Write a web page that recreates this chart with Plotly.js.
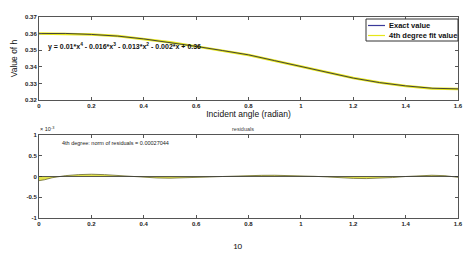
<!DOCTYPE html>
<html><head><meta charset="utf-8">
<script src="https://cdn.plot.ly/plotly-3.0.1.min.js"></script>
<style>html,body{margin:0;padding:0;background:#fff}#c{width:465px;height:254px}</style>
</head><body><div id="c"></div>
<script>
const angle = [0,0.1,0.2,0.3,0.4,0.5,0.6,0.7,0.8,0.9,1.0,1.1,1.2,1.3,1.4,1.5,1.6];
const exactH = [0.3600,0.3601,0.3595,0.3585,0.3568,0.3547,0.3523,0.3498,0.3472,0.3437,0.3402,0.3366,0.3332,0.3305,0.3285,0.3271,0.3267];
const fitH   = [0.3601,0.3600,0.3595,0.3585,0.3568,0.3548,0.3523,0.3498,0.3471,0.3437,0.3402,0.3366,0.3332,0.3306,0.3285,0.3270,0.3267];
const resX = [0,0.02,0.05,0.1,0.15,0.2,0.25,0.3,0.35,0.4,0.45,0.5,0.55,0.6,0.65,0.7,0.75,0.8,0.85,0.9,0.95,1.0,1.05,1.1,1.15,1.2,1.25,1.3,1.35,1.4,1.45,1.5,1.55,1.6];
const resY = [-0.10,-0.08,-0.03,0.02,0.045,0.055,0.045,0.025,0.0,-0.02,-0.035,-0.04,-0.035,-0.025,-0.012,0.0,0.012,0.022,0.028,0.03,0.025,0.015,0.005,-0.01,-0.03,-0.045,-0.05,-0.045,-0.025,0.0,0.02,0.03,0.02,-0.02];
const xTicks = [0,0.2,0.4,0.6,0.8,1,1.2,1.4,1.6];
const yTicksTop = [0.32,0.33,0.34,0.35,0.36,0.37];
const yTicksRes = [-1,-0.5,0,0.5,1];
const legendNames = ['Exact value','4th degree fit value'];
const exactColor = '#3a3a9a', fitColor = '#e6e619';

const F = 'Liberation Sans, Arial, sans-serif';
const axBase = {showline:true, linecolor:'#555', linewidth:1, mirror:'ticks', ticks:'inside', ticklen:3, tickcolor:'#555',
  showgrid:false, zeroline:false, tickfont:{family:F,size:6,color:'#222',weight:'bold'}};

const traces = [
  {x:angle, y:fitH, mode:'lines', name:legendNames[1], line:{color:fitColor, width:2.5}, showlegend:false, xaxis:'x', yaxis:'y'},
  {x:angle, y:exactH, mode:'lines', name:legendNames[0], line:{color:'#44443a', width:1}, showlegend:false, xaxis:'x', yaxis:'y'},
  {x:resX, y:resY, mode:'lines', fill:'tozeroy', fillcolor:'#e3e34a', line:{color:'#6b6b30', width:0.8}, showlegend:false, xaxis:'x2', yaxis:'y2'}
];

const px = v => v/465, py = v => 1 - v/254;
const shapes = [
  {type:'line', xref:'x2', yref:'y2', x0:0, x1:1.6, y0:0, y1:0, line:{color:'#333', width:0.8}},
  {type:'rect', xref:'paper', yref:'paper', x0:px(366), x1:px(458), y0:py(41), y1:py(19), fillcolor:'#fff', line:{color:'#333', width:1}},
  {type:'line', xref:'paper', yref:'paper', x0:px(368), x1:px(385), y0:py(25.5), y1:py(25.5), line:{color:exactColor, width:1.2}},
  {type:'line', xref:'paper', yref:'paper', x0:px(368), x1:px(385), y0:py(35.5), y1:py(35.5), line:{color:fitColor, width:1.2}}
];

const layout = {
  width:465, height:254, margin:{l:0,r:0,t:0,b:0}, paper_bgcolor:'#fff', plot_bgcolor:'#fff',
  font:{family:F}, showlegend:false,
  xaxis: Object.assign({}, axBase, {domain:[39/465, 458/465], range:[0,1.6], tickvals:xTicks, ticktext:xTicks.map(String), anchor:'y',
     title:{text:'Incident angle (radian)', font:{family:F,size:8.5,color:'#111'}, standoff:2}}),
  yaxis: Object.assign({}, axBase, {domain:[1-100/254, 1-17/254], range:[0.32,0.37], tickvals:yTicksTop, ticktext:yTicksTop.map(v=>v.toFixed(2)), anchor:'x',
     title:{text:'Value of h', font:{family:F,size:8.5,color:'#111'}, standoff:6}}),
  xaxis2: Object.assign({}, axBase, {domain:[39/465, 458/465], range:[0,1.6], tickvals:xTicks, ticktext:xTicks.map(String), anchor:'y2'}),
  yaxis2: Object.assign({}, axBase, {domain:[1-218/254, 1-135/254], range:[-1,1], tickvals:yTicksRes, ticktext:yTicksRes.map(String), anchor:'x2'}),
  shapes: shapes,
  annotations:[
    {xref:'paper', yref:'paper', x:px(387), y:py(25.5), xanchor:'left', yanchor:'middle', showarrow:false,
     text:legendNames[0], font:{family:F,size:7.5,color:'#111',weight:'bold'}},
    {xref:'paper', yref:'paper', x:px(387), y:py(35.5), xanchor:'left', yanchor:'middle', showarrow:false,
     text:legendNames[1], font:{family:F,size:7.5,color:'#111',weight:'bold'}},
    {xref:'paper', yref:'paper', x:px(46), y:py(46), xanchor:'left', yanchor:'middle', showarrow:false,
     text:'y = 0.01*x<sup>4</sup> - 0.016*x<sup>3</sup> - 0.013*x<sup>2</sup> - 0.002*x + 0.36', font:{family:F,size:7,color:'#111',weight:'bold'}},
    {xref:'paper', yref:'paper', x:px(60), y:py(143), xanchor:'left', yanchor:'middle', showarrow:false,
     text:'4th degree: norm of residuals = 0.00027044', font:{family:F,size:5.5,color:'#222'}},
    {xref:'paper', yref:'paper', x:px(243), y:py(129), xanchor:'center', yanchor:'middle', showarrow:false,
     text:'residuals', font:{family:F,size:5.5,color:'#444'}},
    {xref:'paper', yref:'paper', x:px(38), y:py(129), xanchor:'left', yanchor:'middle', showarrow:false,
     text:'× 10<sup>-3</sup>', font:{family:F,size:5.5,color:'#222'}},
    {xref:'paper', yref:'paper', x:px(238), y:py(245), xanchor:'center', yanchor:'middle', showarrow:false,
     text:'10', font:{family:'Carlito, Liberation Sans, sans-serif',size:9,color:'#111'}}
  ]
};
Plotly.newPlot('c', traces, layout, {displayModeBar:false, staticPlot:true});
</script></body></html>
